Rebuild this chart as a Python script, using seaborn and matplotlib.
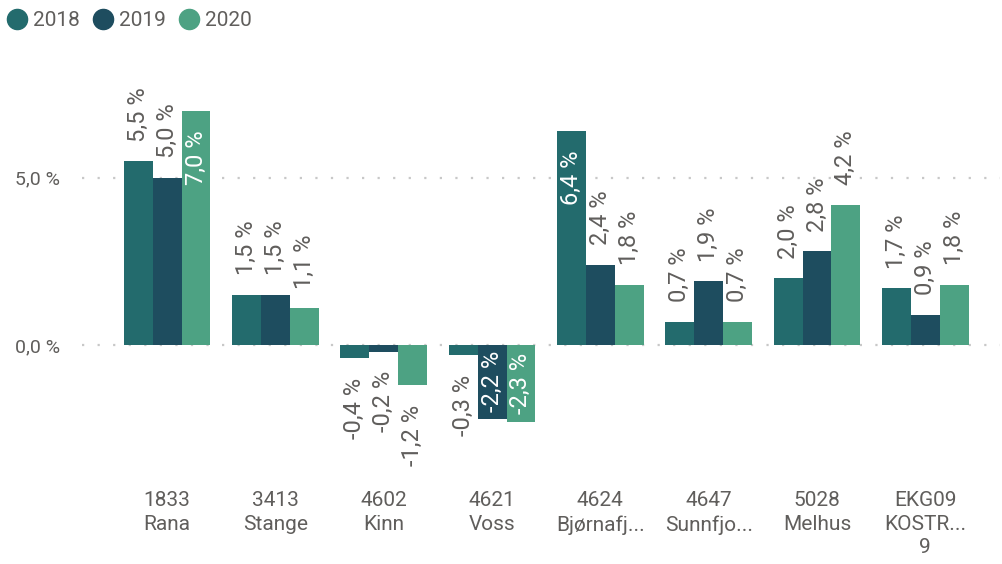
import pandas as pd
import numpy as np
import matplotlib.pyplot as plt
import seaborn as sns
from matplotlib.lines import Line2D

# %% data
categories = ["1833\nRana", "3413\nStange", "4602\nKinn", "4621\nVoss",
              "4624\nBjørnafj...", "4647\nSunnfjo...", "5028\nMelhus", "EKG09\nKOSTR...\n9"]
years = ["2018", "2019", "2020"]
v2018 = [5.5, 1.5, -0.4, -0.3, 6.4, 0.7, 2.0, 1.7]
v2019 = [5.0, 1.5, -0.2, -2.2, 2.4, 1.9, 2.8, 0.9]
v2020 = [7.0, 1.1, -1.2, -2.3, 1.8, 0.7, 4.2, 1.8]
colors = ["#236B6D", "#1E4D5F", "#4DA283"]
text_col = "#605E5C"

df = pd.DataFrame({"kategori": categories * 3,
                   "aar": np.repeat(years, len(categories)),
                   "verdi": v2018 + v2019 + v2020})

# %% style
sns.set_style("white")
plt.rcParams['font.family'] = ['Roboto', 'DejaVu Sans']

fig = plt.figure(figsize=(10.02, 5.64), dpi=100)
ax = fig.add_axes([0.082, 0.151, 0.916, 0.771])

sns.barplot(data=df, x="kategori", y="verdi", hue="aar", hue_order=years,
            palette=colors, width=0.8, gap=0, ax=ax, legend=False,
            saturation=1, errorbar=None, zorder=3, linewidth=0, edgecolor='none')

ax.set_ylim(-4, 9)
ax.set_xlim(-0.785, 7.69)
ax.set_yticks([0, 5])
ax.set_yticklabels(["0,0 %", "5,0 %"])
ax.grid(axis='y', color="#C8C8C8", linestyle=(0, (1, 6)), linewidth=1.6, zorder=0)
ax.grid(axis='x', visible=False)
for s in ax.spines.values():
    s.set_visible(False)
ax.tick_params(axis='y', length=0, pad=16, labelsize=14, labelcolor=text_col)
ax.tick_params(axis='x', length=0, pad=9, labelsize=15, labelcolor=text_col)
for lbl in ax.get_xticklabels():
    lbl.set_linespacing(1.3)
ax.set_xlabel("")
ax.set_ylabel("")

# data labels
off = 14
for cont in ax.containers:
    for bar in cont:
        v = bar.get_height()
        x = bar.get_x() + bar.get_width() / 2
        txt = f"{v:.1f} %".replace('.', ',')
        if v > 6:
            ax.annotate(txt, (x, v), xytext=(0, -off), textcoords='offset points',
                        rotation=90, ha='center', va='top', color='white', fontsize=17)
        elif v < -2:
            ax.text(x, v / 2, txt, rotation=90, ha='center', va='center',
                    color='white', fontsize=17)
        elif v >= 0:
            ax.annotate(txt, (x, v), xytext=(0, off), textcoords='offset points',
                        rotation=90, ha='center', va='bottom', color=text_col, fontsize=17)
        else:
            ax.annotate(txt, (x, v), xytext=(0, -off), textcoords='offset points',
                        rotation=90, ha='center', va='top', color=text_col, fontsize=17)

# legend
handles = [Line2D([], [], marker='o', linestyle='', markersize=14.5,
                  markerfacecolor=c, markeredgecolor=c) for c in colors]
fig.legend(handles, years, loc='center left', bbox_to_anchor=(0.0045, 0.963), ncol=3,
           frameon=False, handletextpad=0.17, columnspacing=0.5, handlelength=1.2,
           fontsize=15, labelcolor=text_col, borderaxespad=0, borderpad=0)

fig.savefig("out.png", dpi=100, facecolor='white')
